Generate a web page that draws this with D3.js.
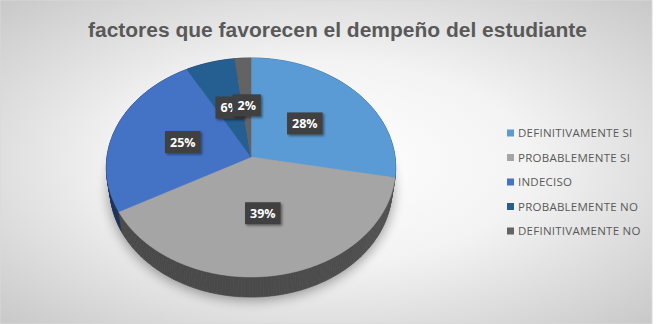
<!DOCTYPE html>
<html><head><meta charset="utf-8">
<script src="https://cdn.jsdelivr.net/npm/d3@7"></script>
<style>html,body{margin:0;padding:0;background:#fff;}svg{display:block;}</style>
</head><body>
<script>
const categories = ["DEFINITIVAMENTE SI","PROBABLEMENTE SI","INDECISO","PROBABLEMENTE NO","DEFINITIVAMENTE NO"];
const values = [28, 39, 25, 6, 2];
const labels = ["28%","39%","25%","6%","2%"];
const colors = ["#5B9BD5","#A5A5A5","#4472C4","#255E91","#636363"];
const title = "factores que favorecen el dempeño del estudiante";

const W = 661, Hgt = 324;
const svg = d3.select("body").append("svg").attr("width", W).attr("height", Hgt);
const defs = svg.append("defs");
const rg = defs.append("radialGradient").attr("id","bg").attr("cx","50%").attr("cy","50%").attr("r","70%");
rg.append("stop").attr("offset","0%").attr("stop-color","#ffffff");
rg.append("stop").attr("offset","45%").attr("stop-color","#f3f3f3");
rg.append("stop").attr("offset","100%").attr("stop-color","#c9c9c9");
defs.append("filter").attr("id","blur").attr("x","-20%").attr("y","-20%").attr("width","140%").attr("height","140%")
  .append("feGaussianBlur").attr("stdDeviation", 6);
const ds = defs.append("filter").attr("id","lblshadow").attr("x","-30%").attr("y","-30%").attr("width","170%").attr("height","170%");
ds.append("feDropShadow").attr("dx",1.5).attr("dy",1.5).attr("stdDeviation",1.2).attr("flood-color","#000").attr("flood-opacity",0.45);

svg.append("rect").attr("x",0).attr("y",0).attr("width",652).attr("height",Hgt).attr("fill","url(#bg)")
  .attr("stroke","#d9d9d9").attr("stroke-width",1);

svg.append("text").attr("x", 88).attr("y", 37)
  .attr("font-family","Liberation Sans, Arial, sans-serif").attr("font-weight","bold")
  .attr("font-size", 20).attr("fill","#595959")
  .attr("textLength", 499).attr("lengthAdjust","spacingAndGlyphs").text(title);

// 3D projection
const R = 144, elev = 48.9*Math.PI/180, focal = 988, cx = 251, cy = 157, depthH = 33;
function proj(theta, r, Y){
  const X = r*Math.sin(theta), Z = r*Math.cos(theta);
  const up = Y*Math.cos(elev) + Z*Math.sin(elev);
  const dep = Z*Math.cos(elev) - Y*Math.sin(elev);
  const s = focal/(focal+dep);
  return [cx + X*s, cy - up*s];
}

const color = d3.scaleOrdinal().domain(categories).range(colors);
const pie = d3.pie().sort(null).value(d=>d.v);
const arcs = pie(categories.map((c,i)=>({c, v:values[i], l:labels[i]})));

// shadow
const shadowPts = d3.range(0, 361, 3).map(a=>proj(a*Math.PI/180, R+2, -depthH-3));
svg.append("path").attr("d", d3.line()(shadowPts)+"Z").attr("fill","#000").attr("opacity",0.35).attr("filter","url(#blur)");

// walls
const quads = [];
arcs.forEach(a=>{
  const n = Math.max(2, Math.ceil((a.endAngle-a.startAngle)/(Math.PI/180)));
  for(let i=0;i<n;i++){
    const t0 = a.startAngle + (a.endAngle-a.startAngle)*i/n;
    const t1 = a.startAngle + (a.endAngle-a.startAngle)*(i+1)/n;
    quads.push({t0,t1,c:a.data.c,mid:(t0+t1)/2});
  }
});
quads.sort((p,q)=>Math.cos(q.mid)-Math.cos(p.mid));
const wallG = svg.append("g");
quads.forEach(q=>{
  const pts = [proj(q.t0,R,0),proj(q.t1,R,0),proj(q.t1,R,-depthH),proj(q.t0,R,-depthH)];
  const k = 2.0 + 0.25*(-Math.cos(q.mid)) - 0.15*Math.sin(q.mid);
  const col = d3.color(color(q.c)).darker(k).formatHex();
  wallG.append("path").attr("d", d3.line()(pts)+"Z").attr("fill", col).attr("stroke", col).attr("stroke-width",0.6);
});

// top face
const topG = svg.append("g");
arcs.forEach(a=>{
  const n = Math.max(2, Math.ceil((a.endAngle-a.startAngle)/(Math.PI/360)));
  const pts = [proj(0,0,0)];
  for(let i=0;i<=n;i++) pts.push(proj(a.startAngle+(a.endAngle-a.startAngle)*i/n, R, 0));
  topG.append("path").attr("d", d3.line()(pts)+"Z").attr("fill", color(a.data.c))
    .attr("stroke", color(a.data.c)).attr("stroke-width",0.5);
});

// labels
const lblG = svg.append("g");
arcs.forEach(a=>{
  const mid = (a.startAngle+a.endAngle)/2;
  const [x,y] = proj(mid, R*0.5, 0);
  const g = lblG.append("g").attr("transform",`translate(${x},${y})`);
  const t = g.append("text").attr("text-anchor","middle").attr("dy","0.36em")
    .attr("font-family","Open Sans, sans-serif").attr("font-weight","bold").attr("font-size",12.5)
    .attr("fill","#fff").text(a.data.l);
  const bb = t.node().getBBox();
  g.insert("rect","text").attr("x",bb.x-5).attr("y",-11).attr("width",bb.width+10).attr("height",22)
    .attr("fill","#404040").attr("filter","url(#lblshadow)");
});

// legend
const leg = svg.append("g");
categories.forEach((c,i)=>{
  const y = 133 + i*24.5;
  leg.append("rect").attr("x",507).attr("y",y-3.5).attr("width",7).attr("height",7).attr("fill",color(c));
  leg.append("text").attr("x",518).attr("y",y).attr("dy","0.36em")
    .attr("font-family","Open Sans, sans-serif").attr("font-size",11.5).attr("letter-spacing",0.25)
    .attr("fill","#595959").text(c);
});
</script>
</body></html>
